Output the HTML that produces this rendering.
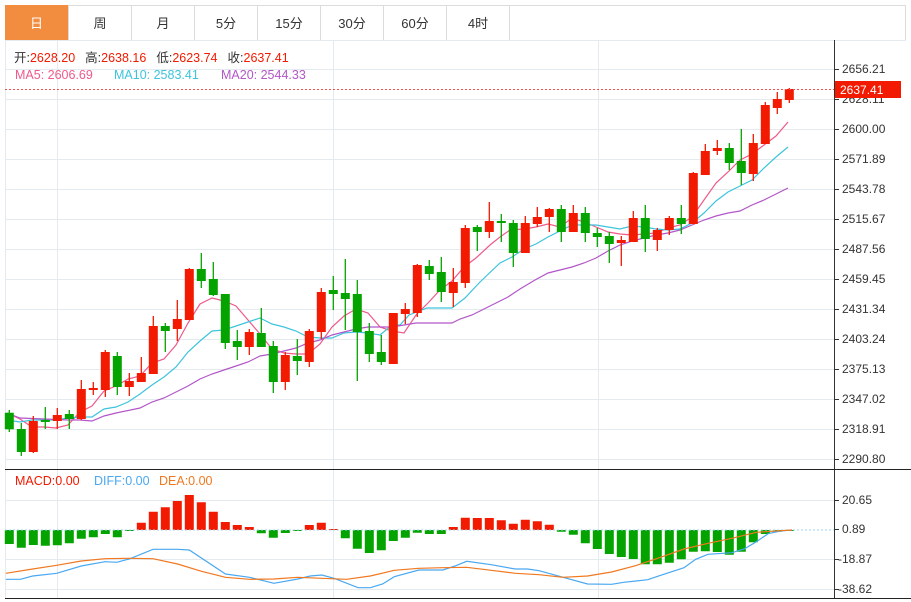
<!DOCTYPE html>
<html><head><meta charset="utf-8"><style>
html,body{margin:0;padding:0;background:#fff;width:911px;height:602px;overflow:hidden}
svg{display:block;font-family:"Liberation Sans","Noto Sans CJK SC",sans-serif}
</style></head><body>
<svg width="911" height="602" xmlns="http://www.w3.org/2000/svg">
<rect x="0" y="0" width="911" height="602" fill="#fff"/>
<rect x="5.5" y="5.5" width="900" height="35" fill="#fff" stroke="#dcdcdc"/>
<rect x="5" y="5" width="63" height="35" fill="#f28c3e"/>
<g stroke="#dcdcdc"><line x1="68.5" y1="5" x2="68.5" y2="40"/><line x1="131.5" y1="5" x2="131.5" y2="40"/><line x1="194.5" y1="5" x2="194.5" y2="40"/><line x1="257.5" y1="5" x2="257.5" y2="40"/><line x1="320.5" y1="5" x2="320.5" y2="40"/><line x1="383.5" y1="5" x2="383.5" y2="40"/><line x1="446.5" y1="5" x2="446.5" y2="40"/><line x1="509.5" y1="5" x2="509.5" y2="40"/></g>
<g font-size="13" text-anchor="middle" fill="#333">
<text x="36.5" y="28" fill="#fff">日</text><text x="100" y="28">周</text><text x="163" y="28">月</text><text x="226" y="28">5分</text><text x="289" y="28">15分</text><text x="352" y="28">30分</text><text x="415" y="28">60分</text><text x="478" y="28">4时</text>
</g>
<g stroke="#e3eaf0">
<path d="M5 69.5H834M5 99.5H834M5 129.5H834M5 159.5H834M5 189.5H834M5 219.5H834M5 249.5H834M5 279.5H834M5 309.5H834M5 339.5H834M5 369.5H834M5 399.5H834M5 429.5H834M5 459.5H834M5 500.5H834M5 559.5H834M5 589.5H834M57.5 40V598M333.5 40V598M598.5 40V598M5.5 40V599M5 40.5H906"/>
</g>
<line x1="834.5" y1="40" x2="834.5" y2="599" stroke="#333"/>
<line x1="5" y1="469.5" x2="911" y2="469.5" stroke="#222"/>
<line x1="5" y1="598.5" x2="911" y2="598.5" stroke="#222"/>
<path stroke="#333" d="M834 69.5h5M834 99.5h5M834 129.5h5M834 159.5h5M834 189.5h5M834 219.5h5M834 249.5h5M834 279.5h5M834 309.5h5M834 339.5h5M834 369.5h5M834 399.5h5M834 429.5h5M834 459.5h5M834 500.5h5M834 529.5h5M834 559.5h5M834 589.5h5"/>
<g font-size="12" fill="#333">
<text x="842" y="73">2656.21</text><text x="842" y="103">2628.11</text><text x="842" y="133">2600.00</text><text x="842" y="163">2571.89</text><text x="842" y="193">2543.78</text><text x="842" y="223">2515.67</text><text x="842" y="253">2487.56</text><text x="842" y="283">2459.45</text><text x="842" y="313">2431.34</text><text x="842" y="343">2403.24</text><text x="842" y="373">2375.13</text><text x="842" y="403">2347.02</text><text x="842" y="433">2318.91</text><text x="842" y="463">2290.80</text>
<text x="842" y="504">20.65</text><text x="842" y="533">0.89</text><text x="838" y="563">-18.87</text><text x="838" y="593">-38.62</text>
</g>

<path fill="#05a300" d="M4.8 530h9V544h-9zM16.8 530h9V547.7h-9zM28.8 530h9V545h-9zM40.8 530h9V545.7h-9zM52.8 530h9V545.3h-9zM64.8 530h9V543.3h-9zM76.8 530h9V538.7h-9zM88.8 530h9V537.3h-9zM100.8 530h9V534h-9zM112.8 530h9V537.3h-9zM124.8 530h9V531h-9zM256.8 530h9V533.3h-9zM268.8 530h9V537.7h-9zM280.8 530h9V533h-9zM292.8 530h9V531h-9zM340.8 530h9V538.3h-9zM352.8 530h9V548.7h-9zM364.8 530h9V553h-9zM376.8 530h9V550.3h-9zM388.8 530h9V541h-9zM400.8 530h9V537.7h-9zM412.8 530h9V532.7h-9zM424.8 530h9V534h-9zM436.8 530h9V534h-9zM556.8 530h9V531.7h-9zM568.8 530h9V534.7h-9zM580.8 530h9V543.3h-9zM592.8 530h9V549h-9zM604.8 530h9V554h-9zM616.8 530h9V557h-9zM628.8 530h9V559h-9zM640.8 530h9V564.3h-9zM652.8 530h9V564.3h-9zM664.8 530h9V562.7h-9zM676.8 530h9V559.3h-9zM688.8 530h9V551.7h-9zM700.8 530h9V551.3h-9zM712.8 530h9V552h-9zM724.8 530h9V554.7h-9zM736.8 530h9V551.7h-9zM748.8 530h9V542.3h-9zM760.8 530h9V534h-9zM772.8 530h9V531.7h-9zM784.8 530h9V531h-9z"/>
<path fill="#f21a00" d="M136.8 530h9V522.7h-9zM148.8 530h9V511.7h-9zM160.8 530h9V507.3h-9zM172.8 530h9V501h-9zM184.8 530h9V495h-9zM196.8 530h9V502.3h-9zM208.8 530h9V511.7h-9zM220.8 530h9V522h-9zM232.8 530h9V525h-9zM244.8 530h9V527h-9zM304.8 530h9V525h-9zM316.8 530h9V522.7h-9zM328.8 530h9V529h-9zM448.8 530h9V527h-9zM460.8 530h9V517.7h-9zM472.8 530h9V518h-9zM484.8 530h9V518h-9zM496.8 530h9V520.3h-9zM508.8 530h9V523.7h-9zM520.8 530h9V519.7h-9zM532.8 530h9V521.3h-9zM544.8 530h9V524.7h-9z"/>
<line x1="5" y1="530" x2="834" y2="530" stroke="#9fd4f0" stroke-dasharray="2,2"/>
<polyline fill="none" stroke="#4aa8f0" stroke-width="1.2" points="5.8,579.3 20.4,579.3 32.7,576 56.7,573.3 81.2,566 105.1,561.7 116.8,562.3 129.1,559 153,549.3 177.6,549.3 189.3,550 225.5,574 249.4,577.3 273.9,583.3 297.9,579 310.2,576 321.8,575 334.1,578.3 358.1,587.7 370.3,587.7 382.6,584 394.3,576.7 418.8,570 442.8,570 455,566 466.7,561.3 491.2,564.7 515.2,569 527.5,569 539.1,570.7 563.1,577.3 587.6,584 611.6,584.3 623.8,582.3 647.8,579.7 659.5,575.7 684,567.7 695.7,559.3 708,554.3 731.9,552.7 744.2,549 756.4,541.7 768.1,533.7 780.4,531 792,530"/>
<polyline fill="none" stroke="#f07820" stroke-width="1.2" points="5.8,573.3 32.7,569 56.7,565.3 81.2,561 105.1,558.7 129.1,558.3 153,558.7 177.6,564 201.5,571.3 225.5,577.3 249.4,579.3 273.9,579 297.9,577.3 321.8,578.3 346.4,579.3 370.3,576 394.3,570.3 418.8,568.3 442.8,567.7 466.7,567.3 491.2,570.3 515.2,573.3 539.1,574.7 563.1,577.3 587.6,576 611.6,572 635.5,565.7 659.5,557.7 684,549 708,543.3 731.9,538.3 756.4,532.3 780.4,530.7 792,530"/>

<polyline fill="none" stroke="#ef5a8a" stroke-width="1.2" points="7,413 20,419 32,427 44,427 56,428 68,425 80,412 92,406 104,391 116,386 128,379 140,376 152,363 164,359 176,345 188,323 200,304 212,298 224,301 236,306 248,320 260,334 272,349 284,353 296,354 308,354 320,344 332,327 344,316 356,309 368,313 380,327 392,331 404,333 416,315 428,303 440,290 452,281 464,267 476,258 490,245 500,237 510,230 524,229 536,227 548,224 560,227 572,218 584,222 596,227 608,232 620,234 632,235 644,234 656,233 668,228 680,225 692,217 704,200 716,183 728,172 740,160 752,154 764,145 776,136 788,122"/>
<polyline fill="none" stroke="#3dc4dc" stroke-width="1.2" points="7,420 20,422 32,420 56,420 68,418 80,417 92,417 104,409 116,407 128,402 140,394 152,385 164,377 176,367 188,352 200,341 212,331 224,330 236,326 248,322 260,318 272,324 284,327 296,331 308,337 320,338 332,338 344,333 356,332 368,333 380,335 392,325 400,325 409,315 427,308 452,308 465,298 480,282 500,263 512,257 524,249 536,244 548,237 560,231 572,225 584,225 596,225 608,227 620,229 632,226 644,227 656,229 668,230 680,229 692,223 704,213 716,201 728,192 740,186 752,180 764,168 776,157 788,147"/>
<polyline fill="none" stroke="#b356c8" stroke-width="1.2" points="7,413 20,418 44,419 68,420 80,420 92,421 104,416 116,413 140,408 152,402 164,398 176,392 188,386 200,379 212,374 224,370 236,366 248,362 260,356 272,354 284,351 296,348 308,343 320,340 332,335 344,332 356,329 368,327 380,327 392,327 404,325 416,323 428,323 452,323 460,319 472,315 484,309 496,303 508,297 520,289 535,280 548,273 560,270 572,267 584,263 596,258 608,251 620,245 632,241 644,238 656,235 668,233 680,230 692,225 704,220 716,216 728,213 740,211 752,205 764,200 776,194 788,188"/>

<path stroke="#05a300" stroke-width="1.3" d="M9.3 410V432M21.3 423V456M45.3 407V429M69.3 410V429M117.3 352V395M165.3 323V352M201.3 253V288M213.3 262V296M225.3 294V349M237.3 330V360M261.3 308V347M273.3 341V393M297.3 339V375M333.3 276V310M345.3 259V330M357.3 280V381M369.3 323V362M381.3 335V365M429.3 260V280M441.3 257V302M477.3 225V251M501.3 214V242M513.3 220V267M561.3 205V242M585.3 207V242M597.3 228V247M609.3 232V263M645.3 205V252M681.3 205V234M729.3 143V170M741.3 129V185"/>
<path fill="#05a300" d="M4.8 412.7h9v16.6h-9zM16.8 429h9v23h-9zM40.8 420h9v2h-9zM64.8 414h9v5h-9zM112.8 356h9v31h-9zM160.8 326h9v5h-9zM196.8 269h9v12h-9zM208.8 279h9v16h-9zM220.8 294h9v49h-9zM232.8 341h9v6h-9zM256.8 333h9v14h-9zM268.8 346h9v36h-9zM292.8 356h9v5h-9zM328.8 290h9v4h-9zM340.8 293h9v6h-9zM352.8 294h9v38h-9zM364.8 331h9v23h-9zM376.8 352h9v10h-9zM424.8 266h9v8h-9zM436.8 272h9v20h-9zM472.8 227h9v5h-9zM496.8 221h9v2h-9zM508.8 223h9v30h-9zM556.8 209h9v23h-9zM580.8 213h9v20h-9zM592.8 233h9v4h-9zM604.8 236h9v8h-9zM640.8 218h9v21h-9zM676.8 218h9v6h-9zM724.8 148h9v15h-9zM736.8 161h9v12h-9z"/>
<path stroke="#f21a00" stroke-width="1.3" d="M33.3 416V453M57.3 408V429M81.3 380V420M93.3 382V395M105.3 350V397M129.3 373V396M141.3 357V382M153.3 316V374M177.3 300V341M189.3 268V320M249.3 329V355M285.3 352V390M309.3 329V367M321.3 288V339M393.3 313V364M405.3 303V324M417.3 264V317M453.3 268V307M465.3 225V288M489.3 202V238M525.3 216V253M537.3 207V227M549.3 208V232M573.3 205V232M621.3 236V266M633.3 211V242M657.3 228V251M669.3 216V235M693.3 172V224M705.3 144V175M717.3 140V155M753.3 134V181M765.3 102V144M777.3 92V114M789.3 88V103"/>
<path fill="#f21a00" d="M28.8 421h9v31h-9zM52.8 415h9v6h-9zM76.8 389h9v30h-9zM88.8 388h9v2h-9zM100.8 352h9v38h-9zM124.8 381h9v6h-9zM136.8 373h9v9h-9zM148.8 326h9v48h-9zM172.8 319h9v10h-9zM184.8 269h9v51h-9zM244.8 332h9v15h-9zM280.8 355h9v27h-9zM304.8 331h9v31h-9zM316.8 292h9v40h-9zM388.8 313h9v51h-9zM400.8 309h9v5h-9zM412.8 265h9v48h-9zM448.8 282h9v11h-9zM460.8 228h9v55h-9zM484.8 221h9v11h-9zM520.8 223h9v30h-9zM532.8 217h9v7h-9zM544.8 209h9v8h-9zM568.8 213h9v19h-9zM616.8 240h9v3h-9zM628.8 218h9v24h-9zM652.8 230h9v10h-9zM664.8 218h9v12h-9zM688.8 173h9v51h-9zM700.8 151h9v24h-9zM712.8 148h9v3h-9zM748.8 143h9v31h-9zM760.8 105h9v39h-9zM772.8 99h9v9h-9zM784.8 89h9v11h-9z"/>

<line x1="5" y1="89.5" x2="834" y2="89.5" stroke="#f05050" stroke-dasharray="2,2"/>
<rect x="835" y="81" width="66" height="17" fill="#f21a00"/>
<text x="840" y="94" font-size="12" fill="#fff">2637.41</text>
<g font-size="12.5">
<text x="14" y="62" fill="#333">开:<tspan fill="#f21a00">2628.20</tspan><tspan dx="10">高:</tspan><tspan fill="#f21a00">2638.16</tspan><tspan dx="10">低:</tspan><tspan fill="#f21a00">2623.74</tspan><tspan dx="10">收:</tspan><tspan fill="#f21a00">2637.41</tspan></text>
<text x="15" y="79" fill="#ef5a8a">MA5: 2606.69</text>
<text x="114" y="79" fill="#3dc4dc">MA10: 2583.41</text>
<text x="221" y="79" fill="#b356c8">MA20: 2544.33</text>
<text x="15" y="485" fill="#f21a00">MACD:0.00</text>
<text x="94" y="485" fill="#4aa8f0">DIFF:0.00</text>
<text x="159" y="485" fill="#f07820">DEA:0.00</text>
</g>
</svg>
</body></html>
